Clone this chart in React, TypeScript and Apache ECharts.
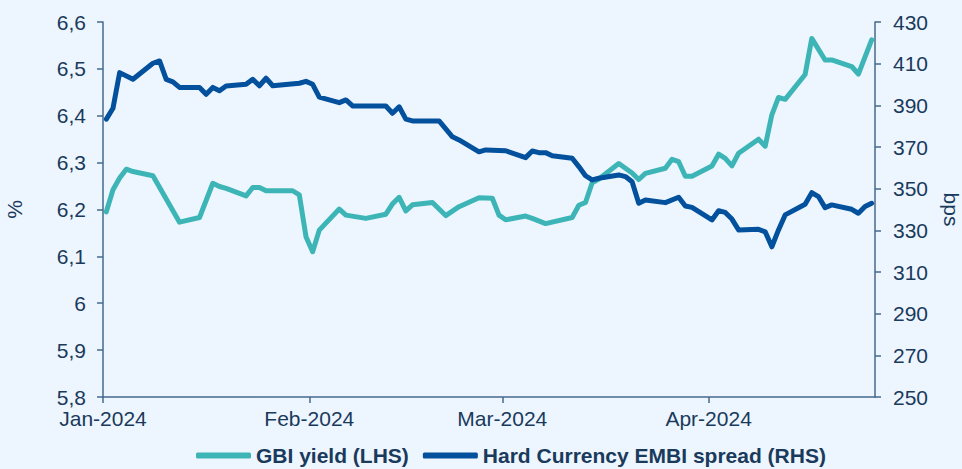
import React, { useEffect, useRef } from "react";
import * as echarts from "echarts";

const gbiDates = ["2024-01-01","2024-01-02","2024-01-03","2024-01-04","2024-01-05","2024-01-08","2024-01-12","2024-01-15","2024-01-17","2024-01-18","2024-01-19","2024-01-22","2024-01-23","2024-01-24","2024-01-25","2024-01-29","2024-01-30","2024-01-31","2024-02-01","2024-02-02","2024-02-05","2024-02-06","2024-02-09","2024-02-12","2024-02-13","2024-02-14","2024-02-15","2024-02-16","2024-02-19","2024-02-21","2024-02-23","2024-02-26","2024-02-28","2024-02-29","2024-03-01","2024-03-04","2024-03-05","2024-03-07","2024-03-11","2024-03-12","2024-03-13","2024-03-14","2024-03-15","2024-03-18","2024-03-20","2024-03-21","2024-03-22","2024-03-25","2024-03-26","2024-03-27","2024-03-28","2024-03-29","2024-04-01","2024-04-02","2024-04-03","2024-04-04","2024-04-05","2024-04-08","2024-04-09","2024-04-10","2024-04-11","2024-04-12","2024-04-15","2024-04-16","2024-04-18","2024-04-19","2024-04-22","2024-04-23","2024-04-25"];
const gbiValues = [6.195,6.242,6.267,6.286,6.281,6.272,6.173,6.183,6.256,6.249,6.245,6.229,6.247,6.247,6.240,6.240,6.231,6.142,6.110,6.156,6.201,6.188,6.181,6.190,6.212,6.226,6.197,6.210,6.215,6.187,6.206,6.225,6.224,6.188,6.178,6.186,6.181,6.170,6.183,6.209,6.215,6.257,6.265,6.298,6.278,6.264,6.277,6.288,6.307,6.302,6.271,6.271,6.293,6.318,6.309,6.293,6.320,6.350,6.335,6.402,6.439,6.435,6.488,6.565,6.519,6.519,6.505,6.489,6.562];

const embiDates = ["2024-01-01","2024-01-02","2024-01-03","2024-01-05","2024-01-08","2024-01-09","2024-01-10","2024-01-11","2024-01-12","2024-01-15","2024-01-16","2024-01-17","2024-01-18","2024-01-19","2024-01-22","2024-01-23","2024-01-24","2024-01-25","2024-01-26","2024-01-30","2024-01-31","2024-02-01","2024-02-02","2024-02-05","2024-02-06","2024-02-07","2024-02-12","2024-02-13","2024-02-14","2024-02-15","2024-02-16","2024-02-20","2024-02-22","2024-02-23","2024-02-26","2024-02-27","2024-03-01","2024-03-04","2024-03-05","2024-03-06","2024-03-07","2024-03-08","2024-03-11","2024-03-12","2024-03-13","2024-03-14","2024-03-15","2024-03-18","2024-03-19","2024-03-20","2024-03-21","2024-03-22","2024-03-25","2024-03-27","2024-03-28","2024-03-29","2024-04-01","2024-04-02","2024-04-03","2024-04-04","2024-04-05","2024-04-08","2024-04-09","2024-04-10","2024-04-11","2024-04-12","2024-04-15","2024-04-16","2024-04-17","2024-04-18","2024-04-19","2024-04-22","2024-04-23","2024-04-24","2024-04-25"];
const embiValues = [383.4,388.6,405.7,402.5,410.2,411.3,402.5,401.3,398.6,398.6,395.3,398.6,397.0,399.3,400.1,402.5,399.4,403.0,399.4,400.6,401.5,400.1,393.9,391.3,392.6,389.7,389.7,386.2,389.3,383.4,382.5,382.5,374.9,373.4,367.7,368.6,368.2,364.9,368.1,367.3,367.3,365.8,364.6,360.6,356.2,354.2,355.0,356.6,355.8,353.3,343.0,344.6,343.3,345.9,341.7,341.0,335.0,339.4,338.6,335.4,330.2,330.5,329.3,322.1,330.2,337.4,342.5,348.1,346.2,340.9,342.2,340.1,338.2,341.4,343.0];

const monthTicks = ["2024-01-01", "2024-02-01", "2024-03-01", "2024-04-01"];
const axisStart = "2024-01-01";
const axisEnd = "2024-04-26";
const seriesNames = ["GBI yield (LHS)", "Hard Currency EMBI spread (RHS)"];
const leftName = "%";
const rightName = "bps";
const monthNames = ["Jan","Feb","Mar","Apr","May","Jun","Jul","Aug","Sep","Oct","Nov","Dec"];

const DAY = 86400000;
const ts = (s: string) => {
  const [y, m, d] = s.split("-").map(Number);
  return Date.UTC(y, m - 1, d);
};
// points are plotted at the middle of their day
const mid = (s: string) => ts(s) + DAY / 2;

const TEAL = "#3DB5B7";
const BLUE = "#03509D";
const AXIS = "#44698B";
const TEXT = "#1A3A5C";
const FONT = "'Liberation Sans', Arial, sans-serif";

export default function App() {
  const ref = useRef<HTMLDivElement>(null);
  useEffect(() => {
    if (!ref.current) return;
    const chart = echarts.init(ref.current, null, { renderer: "svg" });
    const axisLabelStyle = { color: TEXT, fontSize: 21, fontFamily: FONT };
    chart.setOption({
      animation: false,
      backgroundColor: "#EDF6FE",
      textStyle: { fontFamily: FONT },
      grid: { left: 103, right: 87, top: 22, bottom: 72, containLabel: false, outerBoundsMode: "none" },
      legend: {
        left: 191,
        top: 440,
        itemWidth: 55,
        itemHeight: 6,
        itemGap: 14,
        icon: "roundRect",
        textStyle: { color: TEXT, fontSize: 21, fontWeight: "bold", fontFamily: FONT },
        data: seriesNames,
      },
      xAxis: {
        type: "value",
        min: ts(axisStart),
        max: ts(axisEnd),
        splitLine: { show: false },
        axisLine: { show: true, lineStyle: { color: AXIS, width: 1.5 } },
        axisTick: { show: true, length: 6, lineStyle: { color: AXIS, width: 1.5 }, customValues: monthTicks.map(ts) },
        axisLabel: {
          ...axisLabelStyle,
          margin: 11,
          customValues: monthTicks.map(ts),
          formatter: (v: number) => {
            const d = new Date(v);
            return monthNames[d.getUTCMonth()] + "-" + d.getUTCFullYear();
          },
        },
      },
      yAxis: [
        {
          type: "value",
          min: 5.8,
          max: 6.6,
          interval: 0.1,
          position: "left",
          name: leftName,
          nameLocation: "middle",
          nameGap: 78,
          nameRotate: 90,
          nameTextStyle: { color: TEXT, fontSize: 21, fontFamily: FONT },
          splitLine: { show: false },
          axisLine: { show: true, lineStyle: { color: AXIS, width: 1.5 } },
          axisTick: { show: true, length: 6, lineStyle: { color: AXIS, width: 1.5 } },
          axisLabel: {
            ...axisLabelStyle,
            margin: 17,
            formatter: (v: number) => String(Number(v.toFixed(1))).replace(".", ","),
          },
        },
        {
          type: "value",
          min: 250,
          max: 430,
          interval: 20,
          position: "right",
          name: rightName,
          nameLocation: "middle",
          nameGap: 66,
          nameRotate: -90,
          nameTextStyle: { color: TEXT, fontSize: 21, fontFamily: FONT },
          splitLine: { show: false },
          axisLine: { show: true, lineStyle: { color: AXIS, width: 1.5 } },
          axisTick: { show: true, length: 6, lineStyle: { color: AXIS, width: 1.5 } },
          axisLabel: { ...axisLabelStyle, margin: 18 },
        },
      ],
      series: [
        {
          name: seriesNames[0],
          type: "line",
          yAxisIndex: 0,
          showSymbol: false,
          color: TEAL,
          lineStyle: { color: TEAL, width: 5, cap: "round", join: "round" },
          data: gbiDates.map((d, i) => [mid(d), gbiValues[i]]),
        },
        {
          name: seriesNames[1],
          type: "line",
          yAxisIndex: 1,
          showSymbol: false,
          color: BLUE,
          lineStyle: { color: BLUE, width: 5, cap: "round", join: "round" },
          data: embiDates.map((d, i) => [mid(d), embiValues[i]]),
        },
      ],
    });
    return () => chart.dispose();
  }, []);
  return (
    <div
      ref={ref}
      style={{ position: "fixed", left: 0, top: 0, width: 962, height: 469 }}
    />
  );
}
